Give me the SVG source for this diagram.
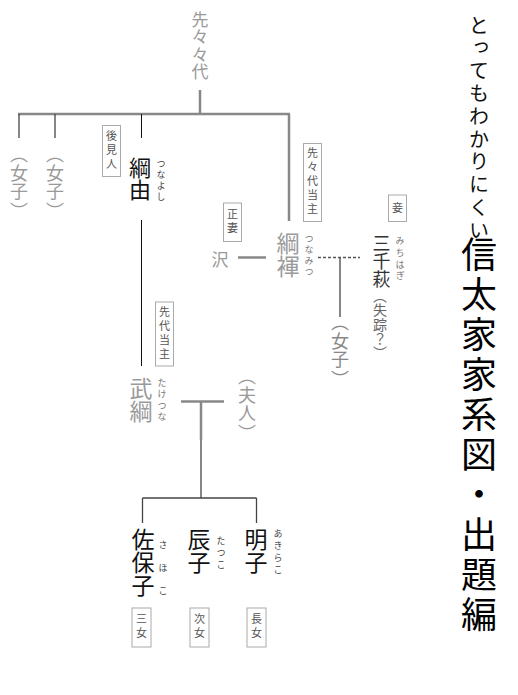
<svg xmlns="http://www.w3.org/2000/svg" width="518" height="695" viewBox="0 0 518 695">
<style>
text{font-family:"Noto Sans CJK JP","Noto Sans CJK SC",sans-serif;writing-mode:vertical-rl;}
.g{fill:#9a9a9a;}
.k{fill:#111;}
.r{font-size:9px;fill:#777;}
.rk{font-size:9px;fill:#444;}
.lb rect{fill:#fff;stroke:#aaa;stroke-width:1;}
.lb text{font-size:11px;fill:#555;letter-spacing:3px;}
.thick{stroke:#888;stroke-width:2.5;fill:none;}
.thin{stroke:#444;stroke-width:1.3;fill:none;}
.blk{stroke:#111;stroke-width:1;fill:none;}
</style>
<rect width="518" height="695" fill="#fff"/>
<g id="connectors">
<line class="thick" x1="200" y1="90" x2="200" y2="114"/>
<line class="thick" x1="18" y1="114" x2="290" y2="114"/>
<line class="thin" x1="19" y1="114" x2="19" y2="138"/>
<line class="thin" x1="55" y1="114" x2="55" y2="138"/>
<line class="blk" x1="141.5" y1="114" x2="141.5" y2="138"/>
<line class="thick" x1="289" y1="114" x2="289" y2="221"/>
<line class="thick" x1="238" y1="257.5" x2="266" y2="257.5"/>
<line x1="318" y1="257.5" x2="360" y2="257.5" stroke="#555" stroke-width="1.5" stroke-dasharray="3,2"/>
<line class="thin" x1="340" y1="257.5" x2="340" y2="317"/>
<line class="blk" x1="141.5" y1="220" x2="141.5" y2="366"/>
<line class="thick" x1="181" y1="401.5" x2="224" y2="401.5"/>
<line class="thick" x1="201" y1="401.5" x2="201" y2="440"/>
<line class="thin" x1="201" y1="440" x2="201" y2="498"/>
<line class="thin" x1="142.5" y1="498" x2="256.5" y2="498"/>
<line class="thin" x1="142.5" y1="498" x2="142.5" y2="523"/>
<line class="thin" x1="256.5" y1="498" x2="256.5" y2="523"/>
</g>
<g id="n-senseindai"><text class="g" x="200" y="11" font-size="17" letter-spacing="0.5">先々々代</text></g>
<g id="n-joshi1"><text class="g" x="19" y="145 164 182 202" font-size="18">（女子）</text></g>
<g id="n-joshi2"><text class="g" x="55" y="145 164 182 202" font-size="18">（女子）</text></g>
<g id="n-koukennin" class="lb"><rect x="102.5" y="125.5" width="18" height="51"/><text x="111.5" y="130">後見人</text></g>
<g id="n-tsunayoshi"><text class="k" x="140" y="157" font-size="22">綱由</text><text class="rk" x="161" y="159" letter-spacing="2">つなよし</text></g>
<g id="n-sendaitoushu" class="lb"><rect x="155.5" y="302" width="18" height="64"/><text x="164.5" y="306">先代当主</text></g>
<g id="n-sensendaitoushu" class="lb"><rect x="303.5" y="143.5" width="18" height="78"/><text x="312.5" y="147">先々代当主</text></g>
<g id="n-seisai" class="lb"><rect x="223.5" y="203" width="18" height="38.5"/><text x="232.5" y="208">正妻</text></g>
<g id="n-mekake" class="lb"><rect x="388.5" y="195" width="18" height="26.5"/><text x="397.5" y="202.5">妾</text></g>
<g id="n-sawa"><text class="g" x="220" y="251" font-size="17">沢</text></g>
<g id="n-tsunamitsu"><text class="g" x="288" y="232" font-size="23">綱褌</text><text class="r" x="309" y="234" letter-spacing="2" fill="#999">つなみつ</text></g>
<g id="n-michihagi"><text x="381.5" y="234" font-size="18" fill="#333">三千萩</text><text class="r" x="400" y="236" letter-spacing="2.8">みちはぎ</text><text x="380" y="289 303 318 332 346" font-size="14" fill="#666">（失踪？）</text></g>
<g id="n-joshi3"><text x="340" y="313 332 350 370" font-size="18" fill="#888">（女子）</text></g>
<g id="n-taketsuna"><text class="g" x="141" y="377" font-size="23" fill="#aaa">武綱</text><text class="r" x="162" y="378" letter-spacing="2.5" fill="#aaa">たけつな</text></g>
<g id="n-fujin"><text class="g" x="247" y="367 386 404 424" font-size="18">（夫人）</text></g>
<g id="n-sahoko"><text class="k" x="143" y="528" font-size="23">佐保子</text><text class="rk" x="163" y="540" letter-spacing="14">さほこ</text></g>
<g id="n-tatsuko"><text class="k" x="199" y="528" font-size="23">辰子</text><text class="rk" x="221" y="536" letter-spacing="3">たつこ</text></g>
<g id="n-akiko"><text class="k" x="256" y="528" font-size="23">明子</text><text class="rk" x="278" y="529" letter-spacing="3">あきらこ</text></g>
<g id="n-sanjo" class="lb"><rect x="132" y="608" width="19" height="39"/><text x="141.5" y="613">三女</text></g>
<g id="n-jijo" class="lb"><rect x="190" y="608" width="19" height="39"/><text x="199.5" y="613">次女</text></g>
<g id="n-choujo" class="lb"><rect x="247" y="608" width="19" height="39"/><text x="256.5" y="613">長女</text></g>
<g id="title"><text x="479" y="15" font-size="20" letter-spacing="2.8" fill="#111">とってもわかりにくい</text><text x="479" y="236" font-size="36" letter-spacing="4" fill="#000">信太家家系図・出題編</text></g>
</svg>
